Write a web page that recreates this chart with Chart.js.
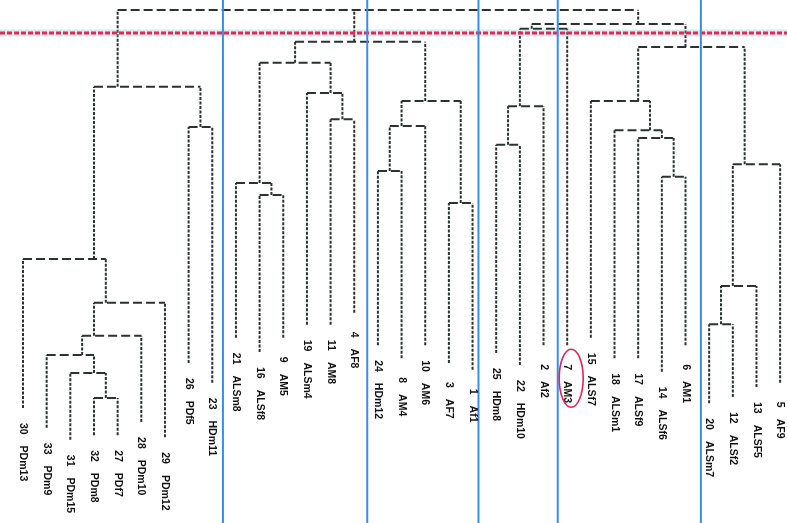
<!DOCTYPE html>
<html>
<head>
<meta charset="utf-8">
<script src="https://cdn.jsdelivr.net/npm/chart.js@4"></script>
<style>
  html, body { margin: 0; padding: 0; background: #fff; }
  #wrap { width: 787px; height: 523px; }
</style>
</head>
<body>
<div id="wrap"><canvas id="dendro"></canvas></div>
<script>
// Leaves, left to right
const leafIds = [30, 33, 31, 32, 27, 28, 29, 26, 23, 21, 16, 9, 19, 11, 4, 24, 8, 10, 3, 1, 25, 22, 2, 7, 15, 18, 17, 14, 6, 20, 12, 13, 5];
const leafNames = ['PDm13', 'PDm9', 'PDm15', 'PDm8', 'PDf7', 'PDm10', 'PDm12', 'PDf5', 'HDm11', 'ALSm8', 'ALSf8', 'AM5', 'ALSm4', 'AM8', 'AF8',
    'HDm12', 'AM4', 'AM6', 'AF7', 'Af1', 'HDm8', 'HDm10', 'Af2', 'AM3', 'ALSf7', 'ALSm1', 'ALSf9', 'ALSf6', 'AM1', 'ALSm7', 'ALSf2', 'ALSF5', 'AF9'];
// height where each leaf branch ends
const leafEnds = [22.0, 18.2, 15.9, 16.8, 16.8, 19.3, 16.4, 30.6, 26.8, 35.4, 32.7, 35.4, 37.9, 37.9, 40.2,
    34.0, 31.5, 34.0, 30.6, 29.3, 32.5, 30.2, 34.0, 34.0, 35.4, 31.5, 31.5, 28.9, 34.0, 22.9, 24.1, 26.0, 26.8];

// merges, R style: negative = leaf (position + 1), positive = earlier merge (1-based)
const mergeLeft = [-4, -3, -2, 3, 4, -1, -8, 6, -11, -10, -14, -13, 10, -16, 14, -19,
    15, 13, 8, -21, 20, 21, -28, -27, -26, -25, -30, 27, 28, 26, 22, 19];
const mergeRight = [-5, 1, 2, -6, -7, 5, -9, 7, -12, 9, -15, 11, 12, -17, -18, -20,
    16, 17, 18, -22, -23, -24, -29, 23, 24, 25, -31, -32, -33, 29, 30, 31];
const mergeHeights = [23.9, 28.7, 32.1, 35.8, 42.1, 50.5, 75.7, 83.4, 62.7, 65.0, 77.2, 82.2, 88.0, 67.3, 75.9, 61.2,
    80.7, 92.0, 98.1, 72.3, 79.7, 94.5, 66.2, 73.6, 75.1, 80.7, 38.0, 45.3, 68.6, 91.0, 95.4, 98.1];

const cutHeight = 93.7;
const groupBreaks = [8.45, 14.55, 19.25, 22.6, 28.65];
const highlightLeaf = 23; // "7 AM3"

// build segments
const nodes = [];
const horiz = [];
const vert = [];

function child(c) {
    if (c < 0) {
        const pos = -c - 1;
        return { x: pos, h: leafEnds[pos], lo: pos, hi: pos };
    }
    return nodes[c - 1];
}

mergeHeights.forEach((h, k) => {
    const l = child(mergeLeft[k]);
    const r = child(mergeRight[k]);
    horiz.push({ x: l.x, y: h }, { x: r.x, y: h }, { x: r.x, y: null });
    [l, r].forEach(c => {
        if (c.h < h) vert.push({ x: c.x, y: c.h }, { x: c.x, y: h }, { x: c.x, y: null });
    });
    const lo = Math.min(l.lo, r.lo);
    const hi = Math.max(l.hi, r.hi);
    nodes.push({ x: (lo + hi) / 2, h: h, lo: lo, hi: hi });
});

const blueLines = [];
groupBreaks.forEach(b => {
    blueLines.push({ x: b, y: 0 }, { x: b, y: 100 }, { x: b, y: null });
});

const xMin = -0.972;
const xMax = 32.29;
const cutLine = [{ x: xMin, y: cutHeight }, { x: xMax, y: cutHeight }];

const labelPlugin = {
    id: 'leafLabels',
    afterDatasetsDraw(chart) {
        const { ctx, scales: { x, y } } = chart;
        ctx.save();
        ctx.font = 'bold 10.5px "Liberation Sans", Arial, sans-serif';
        ctx.fillStyle = '#111';
        ctx.textBaseline = 'middle';
        ctx.textAlign = 'left';
        leafIds.forEach((id, i) => {
            const px = x.getPixelForValue(i);
            const py = y.getPixelForValue(leafEnds[i]);
            const num = String(id);
            const start = py + 15 + (2 - num.length) * 4;
            ctx.save();
            ctx.translate(px, start);
            ctx.rotate(Math.PI / 2);
            ctx.fillText(num, 0, 0);
            ctx.fillText(leafNames[i], ctx.measureText(num).width + 11, 0);
            ctx.restore();
        });

        // circle round the highlighted leaf label
        const cx = x.getPixelForValue(highlightLeaf) + 4;
        const cy = y.getPixelForValue(leafEnds[highlightLeaf]) + 33;
        ctx.beginPath();
        ctx.ellipse(cx, cy, 12, 29, 0, 0, Math.PI * 2);
        ctx.strokeStyle = '#d9295b';
        ctx.lineWidth = 1.6;
        ctx.stroke();
        ctx.restore();
    }
};

const common = { pointRadius: 0, tension: 0, spanGaps: false, fill: false };

new Chart(document.getElementById('dendro'), {
    type: 'line',
    data: {
        datasets: [
            { ...common, data: blueLines, borderColor: '#3a8ee0', borderWidth: 2 },
            { ...common, data: cutLine, borderColor: '#e0285e', borderWidth: 3, borderDash: [5, 2] },
            { ...common, data: cutLine, borderColor: 'rgba(150,180,180,0.3)', borderWidth: 7 },
            { ...common, data: horiz, borderColor: '#2a3232', borderWidth: 2, borderDash: [9, 4] },
            { ...common, data: vert, borderColor: '#2a3232', borderWidth: 2, borderDash: [3, 1.5] }
        ]
    },
    options: {
        responsive: true,
        maintainAspectRatio: false,
        animation: false,
        events: [],
        layout: { padding: 0 },
        plugins: { legend: { display: false }, tooltip: { enabled: false } },
        scales: {
            x: { type: 'linear', min: xMin, max: xMax, display: false },
            y: { type: 'linear', min: 0, max: 100, display: false }
        }
    },
    plugins: [labelPlugin]
});
</script>
</body>
</html>
